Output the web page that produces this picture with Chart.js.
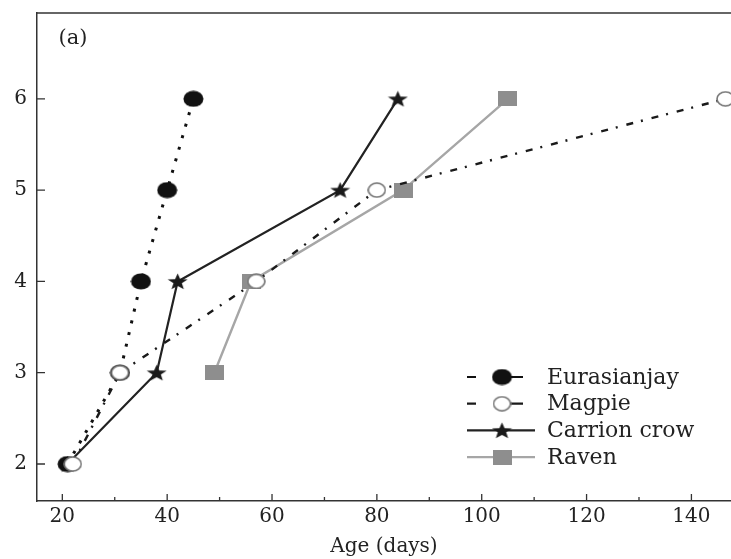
<!DOCTYPE html>
<html>
<head>
<meta charset="utf-8">
<script src="https://cdn.jsdelivr.net/npm/chart.js@4.4.1/dist/chart.umd.min.js"></script>
<style>
  html, body { margin: 0; padding: 0; background: #fff; }
  #wrap { width: 731px; height: 559px; }
</style>
</head>
<body>
<div id="wrap"><canvas id="chart" width="731" height="559"></canvas></div>
<script>
// developmental stage (y) against age in days (x)
const stages = [2, 3, 4, 5, 6];
const jayAges = [21, 31, 35, 40, 45];
const magpieAges = [22, 31, 57, 80, 146.5];
const crowAges = [21, 38, 42, 73, 84];
const ravenStages = [3, 4, 5, 6];
const ravenAges = [49, 56, 85, 105];

const xMajorTicks = [20, 40, 60, 80, 100, 120, 140];
const xMinorTicks = [30, 50, 70, 90, 110, 130];
const yTicks = [2, 3, 4, 5, 6];
const seriesNames = ['Eurasianjay', 'Magpie', 'Carrion crow', 'Raven'];

const FONT = '"DejaVu Serif", "Liberation Serif", serif';
const INK = '#222';

function makeMarker(w, h, draw) {
  const c = document.createElement('canvas');
  c.width = w;
  c.height = h;
  draw(c.getContext('2d'), w, h);
  return c;
}

// the source figure is stretched sideways, so markers are a bit wider than tall
const jayMarker = makeMarker(21, 17, (ctx, w, h) => {
  ctx.fillStyle = '#111';
  ctx.beginPath();
  ctx.ellipse(w / 2, h / 2, w / 2 - 0.5, h / 2 - 0.5, 0, 0, Math.PI * 2);
  ctx.fill();
});
const magpieMarker = makeMarker(19, 16, (ctx, w, h) => {
  ctx.fillStyle = '#fff';
  ctx.strokeStyle = '#777';
  ctx.lineWidth = 1.6;
  ctx.beginPath();
  ctx.ellipse(w / 2, h / 2, w / 2 - 1, h / 2 - 1, 0, 0, Math.PI * 2);
  ctx.fill();
  ctx.stroke();
});
const crowMarker = makeMarker(21, 17, (ctx, w, h) => {
  const rx = 10.5, ry = 8.8, cx = w / 2, cy = 9.2;
  ctx.fillStyle = '#1a1a1a';
  ctx.beginPath();
  for (let i = 0; i < 10; i++) {
    const r = i % 2 === 0 ? 1 : 0.42;
    const a = -Math.PI / 2 + i * Math.PI / 5;
    const px = cx + Math.cos(a) * r * rx;
    const py = cy + Math.sin(a) * r * ry;
    if (i === 0) ctx.moveTo(px, py); else ctx.lineTo(px, py);
  }
  ctx.closePath();
  ctx.fill();
});
const ravenMarker = makeMarker(19, 15, (ctx, w, h) => {
  ctx.fillStyle = '#8e8e8e';
  ctx.fillRect(0, 0, w, h);
});

function toPoints(xs, ys) {
  return xs.map((x, i) => ({ x: x, y: ys[i] }));
}

const frameAndLegend = {
  id: 'frameAndLegend',
  afterDraw(chart) {
    const { ctx, chartArea: a, scales: { x, y } } = chart;
    ctx.save();

    // top edge of the frame
    ctx.strokeStyle = '#333';
    ctx.lineWidth = 1.5;
    ctx.beginPath();
    ctx.moveTo(a.left, a.top);
    ctx.lineTo(a.right, a.top);
    ctx.stroke();

    // inward tick marks
    ctx.lineWidth = 1.3;
    ctx.beginPath();
    xMajorTicks.forEach(v => {
      const px = x.getPixelForValue(v);
      ctx.moveTo(px, a.bottom);
      ctx.lineTo(px, a.bottom - 7);
    });
    xMinorTicks.forEach(v => {
      const px = x.getPixelForValue(v);
      ctx.moveTo(px, a.bottom);
      ctx.lineTo(px, a.bottom - 4);
    });
    yTicks.forEach(v => {
      const py = y.getPixelForValue(v);
      ctx.moveTo(a.left, py);
      ctx.lineTo(a.left + 8, py);
    });
    ctx.stroke();

    // panel letter
    ctx.fillStyle = INK;
    ctx.font = '21px ' + FONT;
    ctx.textAlign = 'center';
    ctx.textBaseline = 'middle';
    ctx.fillText('(a)', a.left + 36, a.top + 26);

    // legend
    const lx = 467, tx = 547, ly0 = 377, step = 26.7;
    chart.data.datasets.forEach((ds, i) => {
      const ly = ly0 + i * step;
      ctx.strokeStyle = ds.borderColor;
      ctx.lineWidth = 2.2;
      ctx.setLineDash([]);
      ctx.beginPath();
      if (ds.borderDash) {
        ctx.moveTo(lx, ly); ctx.lineTo(lx + 9, ly);
        ctx.moveTo(lx + 40, ly); ctx.lineTo(lx + 56, ly);
      } else {
        ctx.moveTo(lx, ly); ctx.lineTo(lx + 68, ly);
      }
      ctx.stroke();
      const m = ds.pointStyle;
      ctx.drawImage(m, lx + 35 - m.width / 2, ly - m.height / 2);
      ctx.fillStyle = INK;
      ctx.font = '22px ' + FONT;
      ctx.textAlign = 'left';
      ctx.fillText(seriesNames[i], tx, ly + 1);
    });
    ctx.restore();
  }
};

new Chart(document.getElementById('chart'), {
  type: 'line',
  data: {
    datasets: [
      {
        label: seriesNames[0],
        data: toPoints(jayAges, stages),
        borderColor: '#111',
        borderWidth: 3,
        borderDash: [3, 9],
        pointStyle: jayMarker,
        order: 1
      },
      {
        label: seriesNames[1],
        data: toPoints(magpieAges, stages),
        borderColor: '#1a1a1a',
        borderWidth: 2.4,
        borderDash: [7, 8, 2, 9],
        pointStyle: magpieMarker,
        order: 0
      },
      {
        label: seriesNames[2],
        data: toPoints(crowAges, stages),
        borderColor: '#222',
        borderWidth: 2.2,
        pointStyle: crowMarker,
        order: 2
      },
      {
        label: seriesNames[3],
        data: toPoints(ravenAges, ravenStages),
        borderColor: '#a6a6a6',
        borderWidth: 2.4,
        pointStyle: ravenMarker,
        order: 3
      }
    ]
  },
  options: {
    responsive: false,
    animation: false,
    events: [],
    layout: { autoPadding: false, padding: { top: 13, right: 0, left: 0, bottom: 0 } },
    plugins: {
      legend: { display: false },
      tooltip: { enabled: false }
    },
    elements: {
      line: { tension: 0, fill: false },
      point: { radius: 9 }
    },
    scales: {
      x: {
        type: 'linear',
        min: 15.17,
        max: 147.55,
        afterFit: (scale) => {
          scale.height = 58;
          scale.paddingLeft = 0;
          scale.paddingRight = 0;
        },
        afterBuildTicks: (scale) => { scale.ticks = xMajorTicks.map(v => ({ value: v })); },
        grid: { drawOnChartArea: false, drawTicks: false },
        border: { color: '#333', width: 1.5 },
        ticks: {
          color: INK,
          padding: 4,
          maxRotation: 0,
          font: { family: FONT, size: 20 }
        },
        title: {
          display: true,
          text: 'Age (days)',
          color: INK,
          padding: { top: 0, bottom: 0 },
          font: { family: FONT, size: 20 }
        }
      },
      y: {
        type: 'linear',
        min: 1.595,
        max: 6.94,
        afterFit: (scale) => {
          scale.width = 37;
          scale.paddingTop = 0;
          scale.paddingBottom = 0;
        },
        afterBuildTicks: (scale) => { scale.ticks = yTicks.map(v => ({ value: v })); },
        grid: { drawOnChartArea: false, drawTicks: false },
        border: { color: '#333', width: 1.5 },
        ticks: {
          color: INK,
          padding: 10,
          font: { family: FONT, size: 20 }
        }
      }
    }
  },
  plugins: [frameAndLegend]
});
</script>
</body>
</html>
